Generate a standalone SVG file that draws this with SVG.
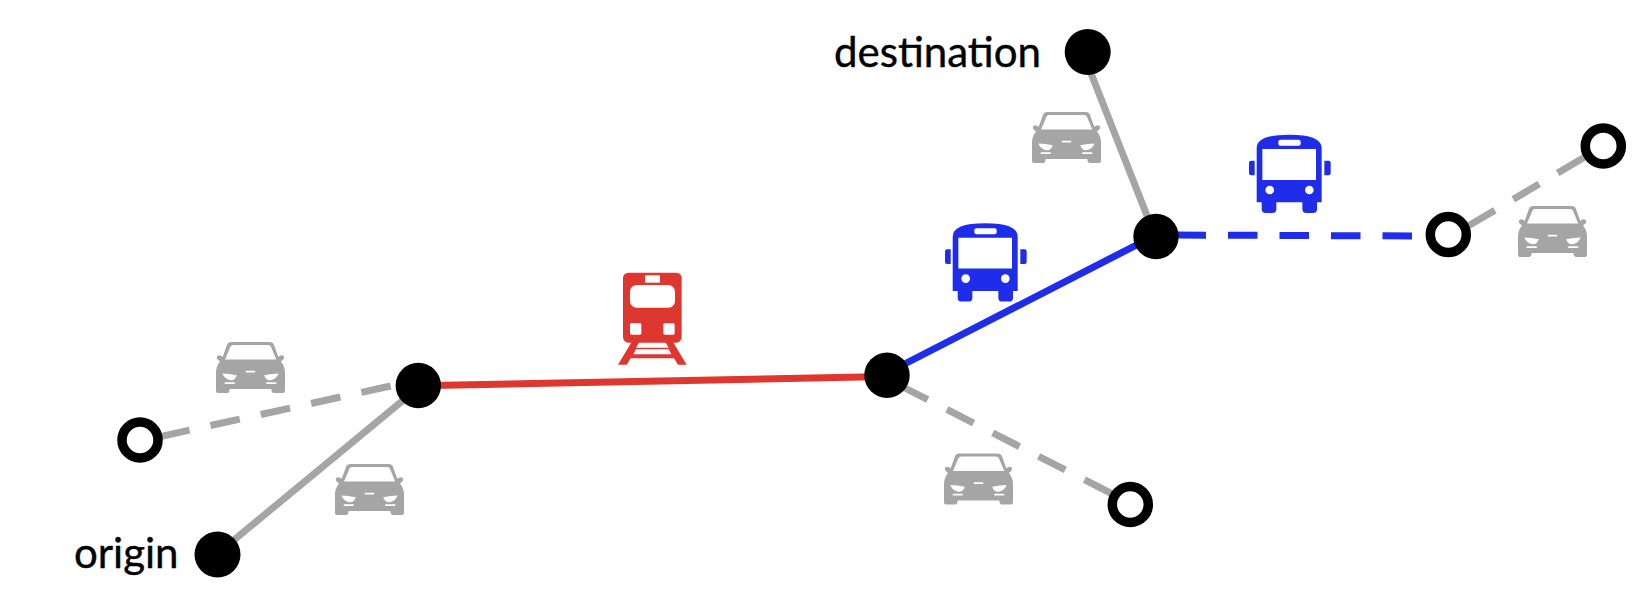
<svg xmlns="http://www.w3.org/2000/svg" xmlns:xlink="http://www.w3.org/1999/xlink" width="1650" height="604" viewBox="0 0 1650 604">
<style>
.label{font-family:Lato,"Liberation Sans",sans-serif;font-size:42px;fill:#000;stroke:#000;stroke-width:.4px}
.c{fill:none;stroke-width:7}
.g{stroke:#a5a5a5}.b{stroke:#1f2deb}.r{stroke:#dd3730}
.d{stroke-dasharray:30 21.5}
.n{fill:#000}
.o{fill:#fff;stroke:#000;stroke-width:9.500}
</style>
<defs>
<symbol id="car" viewBox="0 0 206 152" width="69" height="51" overflow="visible">
<path fill="#a5a5a5" d="M0 146V92Q0 72 12 58L5 52Q0 46 4 42Q10 36 20 44L33 8Q36 0 46 0H160Q170 0 173 8L186 44Q196 36 202 42Q206 46 201 52L194 58Q206 72 206 92V146Q206 152 200 152H172Q166 152 165 140H41Q40 152 34 152H6Q0 152 0 146Z"/>
<path fill="#fff" d="M27 52L43 14Q45 9 52 9H155Q162 9 164 14L180 52Z"/>
<path fill="#fff" d="M19 94Q40 94 62 99Q58 114 44 114Q26 112 19 94ZM187 94Q166 94 144 99Q148 114 162 114Q180 112 187 94ZM89 86H117V91H89ZM26 120H56V125H26ZM150 120H180V125H150Z"/>
</symbol>
<symbol id="bus" viewBox="0 0 245 235" width="81.7" height="78.3" overflow="visible">
<path fill="#1f2deb" d="M0 84Q0 78 6 78H17V122H6Q0 122 0 116ZM245 84Q245 78 239 78H226V122H239Q245 122 245 116ZM23 203V40Q23 0 120 0Q218 0 218 40V203H204V224Q204 235 192 235H172Q160 235 160 224V203H82V224Q82 235 70 235H50Q38 235 38 224V203Z"/>
<path fill="#fff" d="M40 43H201V136H40ZM94 15H149Q155 15 155 21V27Q155 33 149 33H94Q88 33 88 27V21Q88 15 94 15Z"/>
<circle cx="62" cy="166" r="13" fill="#fff"/><circle cx="181" cy="166" r="13" fill="#fff"/>
</symbol>
</defs>
<g id="connectors">
<path class="c g" d="M218 553.200L418 388"/>
<path class="c g d" d="M390.700 386L140 441"/>
<path class="c r" d="M418 385.800L887 376.500"/>
<path class="c b" d="M887 373L1156 235"/>
<path class="c g d" d="M901 386L1130 503"/>
<path class="c g" d="M1085 58L1155 236"/>
<path class="c b" style="stroke-dasharray:29.500 22" d="M1176.500 235L1412 236"/>
<path class="c g d" d="M1469 225.500L1590 154"/>
</g>
<g id="origin"><circle class="n" cx="217.500" cy="554.500" r="23"/><text class="label" x="74" y="568">origin</text></g>
<g id="destination"><circle class="n" cx="1087.700" cy="52" r="23"/><text class="label" x="834" y="67">destination</text></g>
<g id="hub-a"><circle class="n" cx="418.300" cy="385.500" r="22.700"/></g>
<g id="hub-b"><circle class="n" cx="887" cy="375.300" r="22.700"/></g>
<g id="hub-c"><circle class="n" cx="1156" cy="236.500" r="22.700"/></g>
<g id="open-1"><circle class="o" cx="140" cy="440" r="18"/></g>
<g id="open-2"><circle class="o" cx="1130.300" cy="504.500" r="18"/></g>
<g id="open-3"><circle class="o" cx="1448.300" cy="234.500" r="18"/></g>
<g id="open-4"><circle class="o" cx="1603.300" cy="146" r="18"/></g>
<g id="icons">
<use xlink:href="#car" href="#car" x="216" y="342"/>
<use xlink:href="#car" href="#car" x="335" y="464"/>
<use xlink:href="#car" href="#car" x="944" y="453.500"/>
<use xlink:href="#car" href="#car" x="1032" y="112"/>
<use xlink:href="#car" href="#car" x="1518" y="206"/>
<use xlink:href="#bus" href="#bus" x="945" y="223.300"/>
<use xlink:href="#bus" href="#bus" x="1249" y="134.700"/>
<g id="train" transform="translate(590 260) scale(.3333)">
<rect x="99" y="38" width="176" height="210" rx="16" fill="#dd3730"/>
<path fill="#dd3730" d="M125 246H148L138 263H236L226 246H249L290 314H264L252 295H122L110 314H84ZM130 283H244L236 268H138Z"/>
<rect x="165" y="46" width="45" height="22" fill="#fff"/>
<rect x="120" y="75" width="135" height="68" rx="20" fill="#fff"/>
<rect x="120" y="190" width="34" height="34" rx="4" fill="#fff"/>
<rect x="220" y="190" width="34" height="34" rx="4" fill="#fff"/>
</g>
</g>
</svg>
